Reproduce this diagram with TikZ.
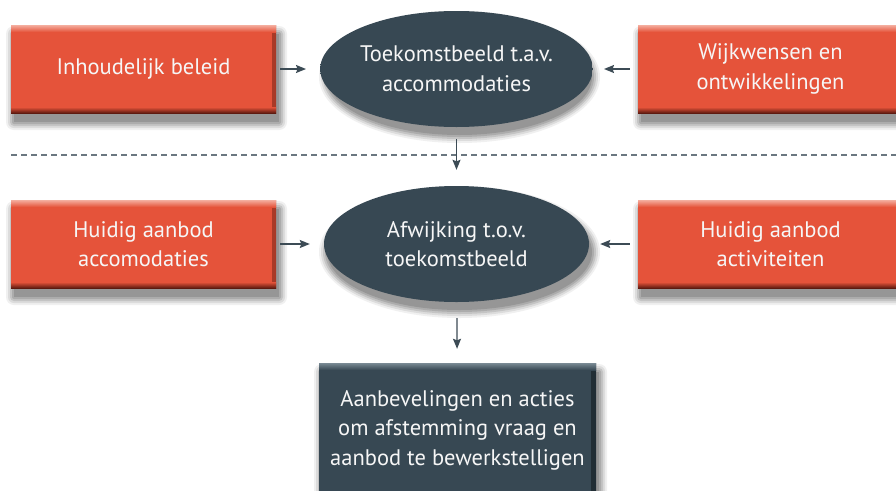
\documentclass[tikz,border=0pt]{standalone}
\usepackage{fontspec}
\setmainfont{PT Sans}
\usetikzlibrary{shapes.geometric,arrows.meta}
\definecolor{boxred}{HTML}{E5533A}
\definecolor{boxtop}{HTML}{F4AE9F}
\definecolor{boxdark}{HTML}{5E1A10}
\definecolor{slate}{HTML}{374853}
\definecolor{slatedark}{HTML}{182228}
\definecolor{slatetop}{HTML}{7A8A94}
\definecolor{arrowcol}{HTML}{3C4B55}
\definecolor{dashcol}{HTML}{6B7780}
\definecolor{txtcol}{HTML}{F6F6F6}
\definecolor{shA}{HTML}{F0F0F0}
\definecolor{shB}{HTML}{DCDCDC}
\definecolor{shC}{HTML}{C4C4C4}
\definecolor{shD}{HTML}{ACACAC}
\definecolor{shE}{HTML}{969696}
\pgfdeclareradialshading{ellshade}{\pgfpoint{-5bp}{6bp}}{color(0bp)=(slate); color(44bp)=(slate); color(56bp)=(slatedark); color(70bp)=(slatedark)}
\newcommand\boxfont{\fontsize{22.5}{29.5}\selectfont}
% soft shadow of a box with left #1, top #2, right #3, bottom #4 (y grows downwards)
\newcommand\boxshadow[4]{%
  \fill[shA, rounded corners=8pt] (#1-5,#2+1) rectangle (#3+11,#4+17);
  \fill[shB, rounded corners=6pt] (#1-3,#2+3) rectangle (#3+9,#4+15);
  \fill[shC, rounded corners=4pt] (#1-1,#2+5) rectangle (#3+7,#4+13);
  \fill[shD, rounded corners=2pt] (#1+1,#2+7) rectangle (#3+5,#4+11);
  \fill[shE] (#1+3,#2+9) rectangle (#3+3,#4+9);}
% soft shadow of an ellipse centred at (#1,#2), radii #3, #4
\newcommand\ovalshadow[4]{%
  \fill[shA] (#1+3,#2+8) ellipse [x radius=#3+8, y radius=#4+8];
  \fill[shB] (#1+3,#2+8) ellipse [x radius=#3+6, y radius=#4+6];
  \fill[shC] (#1+3,#2+8) ellipse [x radius=#3+4, y radius=#4+4];
  \fill[shD] (#1+3,#2+8) ellipse [x radius=#3+2, y radius=#4+2];
  \fill[shE] (#1+3,#2+8) ellipse [x radius=#3, y radius=#4];}
\tikzset{
  redbox/.style={rectangle, fill=boxred, minimum width=265pt, minimum height=88pt, inner sep=0pt,
    text=txtcol, align=center, font=\boxfont,
    path picture={
      \fill[left color=boxred, right color=boxdark!45!boxred] ([xshift=-4pt]path picture bounding box.north east) rectangle (path picture bounding box.south east);
      \fill[top color=boxtop, bottom color=boxred] (path picture bounding box.north west) rectangle ([yshift=-7pt]path picture bounding box.north east);
      \fill[top color=boxred, bottom color=boxdark] ([yshift=6pt]path picture bounding box.south west) rectangle (path picture bounding box.south east);
    }},
  slatebox/.style={rectangle, fill=slate, minimum width=277pt, minimum height=134pt, inner sep=0pt,
    text=txtcol, align=center, font=\boxfont,
    path picture={
      \fill[left color=slate, right color=slatedark!70!slate] ([xshift=-5pt]path picture bounding box.north east) rectangle (path picture bounding box.south east);
      \fill[top color=slatetop, bottom color=slate] (path picture bounding box.north west) rectangle ([yshift=-7pt]path picture bounding box.north east);
    }},
  ellnode/.style={ellipse, shading=ellshade, minimum width=265pt, minimum height=116pt, inner sep=0pt,
    text=txtcol, align=center, font=\boxfont},
  arr/.style={draw=arrowcol, line width=1.3pt, -{Stealth[length=10pt,width=8pt,inset=1.5pt]}},
  dashline/.style={draw=dashcol, line width=1.1pt, dash pattern=on 6pt off 4pt}
}
\begin{document}
\begin{tikzpicture}[x=1pt,y=-1pt]
\useasboundingbox (0,0) rectangle (896,490);
\clip (0,0) rectangle (896,490);
\fill[white] (0,0) rectangle (896,490);

\coordinate (d1) at (11,155);
\coordinate (d2) at (896,155);
\draw[dashline] (d1) -- (d2);

\boxshadow{11}{25}{276}{113}
\boxshadow{638}{25}{903}{113}
\boxshadow{11}{200}{276}{288}
\boxshadow{638}{200}{903}{288}
\boxshadow{319}{363}{596}{497}
\ovalshadow{456.5}{69}{132.5}{58}
\ovalshadow{456.5}{244}{132.5}{58}

\node[redbox] (ib) at (143.5,69) {Inhoudelijk beleid};
\node[ellnode] (tk) at (456.5,69) {Toekomstbeeld t.a.v.\\accommodaties};
\node[redbox] (ww) at (770.5,69) {Wijkwensen en\\ontwikkelingen};

\node[redbox] (ha) at (143.5,244) {Huidig aanbod\\accomodaties};
\node[ellnode] (af) at (456.5,244) {Afwijking t.o.v.\\toekomstbeeld};
\node[redbox] (hac) at (770.5,244) {Huidig aanbod\\activiteiten};

\node[slatebox] (ab) at (457.5,430) {Aanbevelingen en acties\\om afstemming vraag en\\aanbod te bewerkstelligen};

\draw[arr, shorten <=4pt, shorten >=14pt] (ib) -- (tk);
\draw[arr, shorten <=8pt, shorten >=11pt] (ww) -- (tk);
\draw[arr, shorten <=4pt, shorten >=14pt] (ha) -- (af);
\draw[arr, shorten <=8pt, shorten >=11pt] (hac) -- (af);
\draw[arr, shorten <=12pt, shorten >=16pt] (tk) -- (af);
\draw[arr, shorten <=16pt, shorten >=14pt] (af) -- (ab);
\end{tikzpicture}
\end{document}
